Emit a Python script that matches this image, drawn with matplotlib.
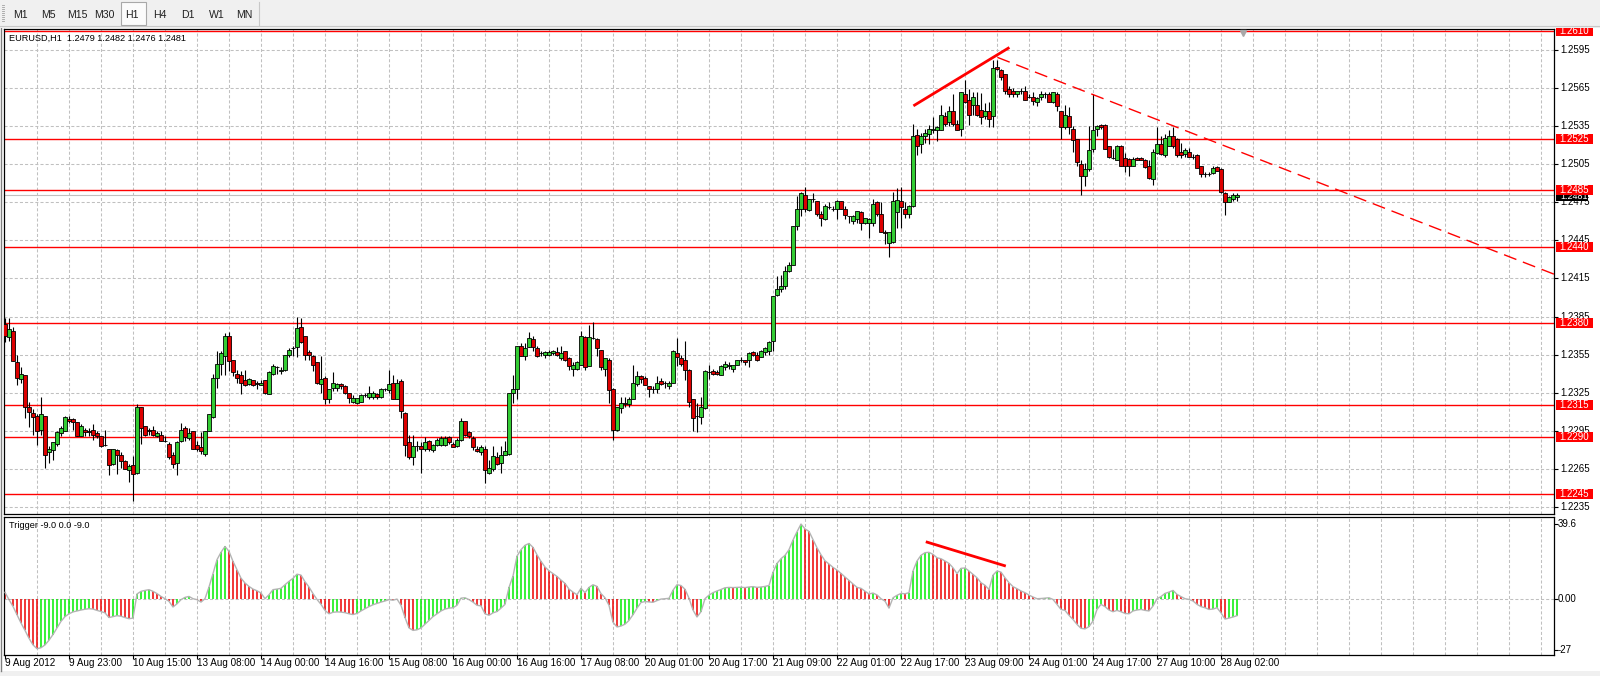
import matplotlib
matplotlib.use("Agg")
import matplotlib.pyplot as plt
from matplotlib.patches import Rectangle
from matplotlib.lines import Line2D
from matplotlib.transforms import blended_transform_factory
import numpy as np

plt.rcParams['font.family'] = ['Liberation Sans', 'DejaVu Sans']
plt.rcParams['lines.scale_dashes'] = False

# ------------------------------------------------------------------ data
symbol_title = "EURUSD,H1  1.2479 1.2482 1.2476 1.2481"
indicator_title = "Trigger -9.0 0.0 -9.0"
timeframes = ["M1", "M5", "M15", "M30", "H1", "H4", "D1", "W1", "MN"]
active_tf = "H1"

opens = [
    1.2379, 1.2369, 1.2374, 1.2349, 1.2336, 1.2339, 1.2314, 1.2309, 1.2307, 1.2296,
    1.2307, 1.2278, 1.2280, 1.2285, 1.2293, 1.2295, 1.2304, 1.2304, 1.2302, 1.2291,
    1.2296, 1.2295, 1.2296, 1.2293, 1.2291, 1.2284, 1.2281, 1.2269, 1.2280, 1.2276,
    1.2271, 1.2264, 1.2268, 1.2262, 1.2314, 1.2299, 1.2296, 1.2296, 1.2291, 1.2292,
    1.2287, 1.2285, 1.2276, 1.2270, 1.2287, 1.2297, 1.2289, 1.2295, 1.2284, 1.2282,
    1.2277, 1.2295, 1.2306, 1.2337, 1.2348, 1.2354, 1.2370, 1.2351, 1.2340, 1.2339,
    1.2335, 1.2332, 1.2335, 1.2333, 1.2331, 1.2335, 1.2324, 1.2340, 1.2345, 1.2342,
    1.2343, 1.2355, 1.2360, 1.2361, 1.2377, 1.2370, 1.2357, 1.2354, 1.2349, 1.2332,
    1.2337, 1.2320, 1.2329, 1.2329, 1.2332, 1.2330, 1.2325, 1.2318, 1.2317, 1.2318,
    1.2323, 1.2322, 1.2322, 1.2324, 1.2322, 1.2328, 1.2327, 1.2333, 1.2320, 1.2334,
    1.2309, 1.2286, 1.2274, 1.2283, 1.2283, 1.2281, 1.2287, 1.2280, 1.2284, 1.2284,
    1.2284, 1.2290, 1.2285, 1.2283, 1.2288, 1.2303, 1.2294, 1.2289, 1.2281, 1.2278,
    1.2281, 1.2262, 1.2265, 1.2274, 1.2270, 1.2276, 1.2277, 1.2325, 1.2328, 1.2362,
    1.2354, 1.2361, 1.2367, 1.2360, 1.2356, 1.2355, 1.2355, 1.2356, 1.2357, 1.2352,
    1.2358, 1.2352, 1.2344, 1.2344, 1.2347, 1.2369, 1.2346, 1.2368, 1.2367, 1.2359,
    1.2344, 1.2351, 1.2328, 1.2296, 1.2313, 1.2317, 1.2316, 1.2320, 1.2332, 1.2338,
    1.2337, 1.2330, 1.2328, 1.2328, 1.2334, 1.2333, 1.2330, 1.2333, 1.2356, 1.2352,
    1.2351, 1.2343, 1.2320, 1.2307, 1.2306, 1.2313, 1.2341, 1.2342, 1.2341, 1.2339,
    1.2345, 1.2346, 1.2344, 1.2347, 1.2351, 1.2351, 1.2351, 1.2357, 1.2355, 1.2353,
    1.2357, 1.2358, 1.2366, 1.2402, 1.2407, 1.2409, 1.2421, 1.2426, 1.2456, 1.2470,
    1.2481, 1.2469, 1.2478, 1.2476, 1.2466, 1.2462, 1.2471, 1.2470, 1.2470, 1.2476,
    1.2470, 1.2464, 1.2460, 1.2462, 1.2467, 1.2459, 1.2459, 1.2459, 1.2475, 1.2466,
    1.2452, 1.2443, 1.2444, 1.2467, 1.2476, 1.2470, 1.2466, 1.2472, 1.2528, 1.2521,
    1.2527, 1.2529, 1.2532, 1.2532, 1.2532, 1.2543, 1.2538, 1.2547, 1.2537, 1.2533,
    1.2560, 1.2556, 1.2552, 1.2552, 1.2548, 1.2543, 1.2547, 1.2543, 1.2582, 1.2579,
    1.2576, 1.2564, 1.2563, 1.2560, 1.2563, 1.2563, 1.2558, 1.2558, 1.2554, 1.2558,
    1.2560, 1.2560, 1.2554, 1.2560, 1.2547, 1.2534, 1.2543, 1.2533, 1.2525, 1.2505,
    1.2496, 1.2501, 1.2517, 1.2533, 1.2536, 1.2536, 1.2519, 1.2510, 1.2508, 1.2519,
    1.2510, 1.2509, 1.2504, 1.2510, 1.2510, 1.2508, 1.2504, 1.2493, 1.2514, 1.2521,
    1.2512, 1.2519, 1.2527, 1.2525, 1.2515, 1.2513, 1.2515, 1.2511, 1.2512, 1.2504,
    1.2497, 1.2497, 1.2498, 1.2503, 1.2501, 1.2482, 1.2475, 1.2478, 1.2479,
]

highs = [
    1.2384, 1.2384, 1.2377, 1.2355, 1.2345, 1.2339, 1.2318, 1.2312, 1.2308, 1.2322,
    1.2307, 1.2283, 1.2286, 1.2295, 1.2299, 1.2307, 1.2307, 1.2305, 1.2302, 1.2300,
    1.2297, 1.2297, 1.2300, 1.2295, 1.2291, 1.2296, 1.2281, 1.2281, 1.2281, 1.2278,
    1.2272, 1.2269, 1.2275, 1.2316, 1.2314, 1.2299, 1.2297, 1.2299, 1.2295, 1.2295,
    1.2291, 1.2286, 1.2278, 1.2287, 1.2301, 1.2299, 1.2297, 1.2295, 1.2287, 1.2294,
    1.2295, 1.2308, 1.2340, 1.2358, 1.2358, 1.2372, 1.2373, 1.2351, 1.2343, 1.2342,
    1.2343, 1.2337, 1.2335, 1.2334, 1.2335, 1.2335, 1.2342, 1.2348, 1.2346, 1.2345,
    1.2355, 1.2360, 1.2362, 1.2385, 1.2384, 1.2370, 1.2359, 1.2355, 1.2349, 1.2354,
    1.2338, 1.2328, 1.2341, 1.2333, 1.2333, 1.2331, 1.2325, 1.2323, 1.2321, 1.2324,
    1.2325, 1.2330, 1.2326, 1.2325, 1.2329, 1.2329, 1.2343, 1.2339, 1.2336, 1.2336,
    1.2310, 1.2292, 1.2292, 1.2287, 1.2286, 1.2290, 1.2288, 1.2285, 1.2289, 1.2291,
    1.2291, 1.2291, 1.2286, 1.2289, 1.2305, 1.2303, 1.2295, 1.2291, 1.2283, 1.2284,
    1.2283, 1.2272, 1.2283, 1.2278, 1.2283, 1.2287, 1.2325, 1.2339, 1.2362, 1.2364,
    1.2364, 1.2373, 1.2370, 1.2362, 1.2358, 1.2358, 1.2359, 1.2359, 1.2361, 1.2362,
    1.2358, 1.2353, 1.2349, 1.2350, 1.2374, 1.2370, 1.2378, 1.2381, 1.2368, 1.2359,
    1.2352, 1.2352, 1.2329, 1.2314, 1.2322, 1.2322, 1.2322, 1.2347, 1.2342, 1.2339,
    1.2338, 1.2330, 1.2330, 1.2338, 1.2337, 1.2334, 1.2334, 1.2359, 1.2368, 1.2355,
    1.2366, 1.2344, 1.2320, 1.2317, 1.2322, 1.2343, 1.2347, 1.2344, 1.2343, 1.2347,
    1.2350, 1.2349, 1.2347, 1.2351, 1.2353, 1.2351, 1.2357, 1.2358, 1.2357, 1.2359,
    1.2361, 1.2366, 1.2401, 1.2417, 1.2418, 1.2425, 1.2428, 1.2456, 1.2480, 1.2483,
    1.2487, 1.2478, 1.2482, 1.2476, 1.2468, 1.2474, 1.2475, 1.2472, 1.2477, 1.2476,
    1.2472, 1.2464, 1.2465, 1.2468, 1.2468, 1.2463, 1.2463, 1.2478, 1.2476, 1.2475,
    1.2453, 1.2452, 1.2483, 1.2486, 1.2487, 1.2475, 1.2473, 1.2537, 1.2533, 1.2530,
    1.2533, 1.2536, 1.2542, 1.2535, 1.2552, 1.2546, 1.2551, 1.2560, 1.2540, 1.2562,
    1.2571, 1.2564, 1.2562, 1.2562, 1.2561, 1.2553, 1.2554, 1.2587, 1.2587, 1.2580,
    1.2576, 1.2567, 1.2565, 1.2563, 1.2565, 1.2567, 1.2560, 1.2562, 1.2558, 1.2563,
    1.2562, 1.2562, 1.2562, 1.2562, 1.2547, 1.2552, 1.2550, 1.2535, 1.2525, 1.2508,
    1.2506, 1.2535, 1.2560, 1.2536, 1.2537, 1.2537, 1.2519, 1.2517, 1.2520, 1.2520,
    1.2514, 1.2510, 1.2511, 1.2511, 1.2511, 1.2509, 1.2508, 1.2517, 1.2534, 1.2527,
    1.2529, 1.2532, 1.2534, 1.2526, 1.2522, 1.2518, 1.2518, 1.2513, 1.2513, 1.2504,
    1.2499, 1.2499, 1.2504, 1.2504, 1.2502, 1.2483, 1.2480, 1.2482, 1.2482,
]

lows = [
    1.2365, 1.2366, 1.2350, 1.2331, 1.2333, 1.2305, 1.2298, 1.2292, 1.2284, 1.2292,
    1.2266, 1.2270, 1.2272, 1.2283, 1.2291, 1.2295, 1.2301, 1.2296, 1.2291, 1.2291,
    1.2291, 1.2291, 1.2288, 1.2289, 1.2282, 1.2283, 1.2260, 1.2268, 1.2261, 1.2266,
    1.2265, 1.2255, 1.2240, 1.2261, 1.2285, 1.2291, 1.2292, 1.2291, 1.2290, 1.2287,
    1.2286, 1.2273, 1.2266, 1.2260, 1.2286, 1.2287, 1.2288, 1.2281, 1.2279, 1.2277,
    1.2275, 1.2295, 1.2305, 1.2329, 1.2339, 1.2339, 1.2342, 1.2338, 1.2333, 1.2324,
    1.2330, 1.2331, 1.2330, 1.2328, 1.2331, 1.2324, 1.2324, 1.2339, 1.2340, 1.2340,
    1.2342, 1.2353, 1.2354, 1.2353, 1.2364, 1.2351, 1.2351, 1.2342, 1.2332, 1.2325,
    1.2316, 1.2317, 1.2326, 1.2326, 1.2328, 1.2324, 1.2317, 1.2317, 1.2316, 1.2318,
    1.2322, 1.2320, 1.2320, 1.2320, 1.2321, 1.2326, 1.2325, 1.2320, 1.2320, 1.2305,
    1.2275, 1.2273, 1.2268, 1.2279, 1.2262, 1.2279, 1.2279, 1.2278, 1.2283, 1.2283,
    1.2283, 1.2285, 1.2282, 1.2282, 1.2287, 1.2291, 1.2289, 1.2280, 1.2278, 1.2276,
    1.2254, 1.2261, 1.2263, 1.2268, 1.2262, 1.2276, 1.2276, 1.2317, 1.2320, 1.2354,
    1.2351, 1.2361, 1.2358, 1.2353, 1.2354, 1.2352, 1.2354, 1.2355, 1.2354, 1.2351,
    1.2350, 1.2343, 1.2338, 1.2343, 1.2347, 1.2343, 1.2346, 1.2367, 1.2354, 1.2343,
    1.2338, 1.2317, 1.2288, 1.2295, 1.2309, 1.2314, 1.2314, 1.2320, 1.2330, 1.2333,
    1.2331, 1.2322, 1.2325, 1.2325, 1.2331, 1.2329, 1.2328, 1.2333, 1.2346, 1.2346,
    1.2335, 1.2314, 1.2295, 1.2294, 1.2300, 1.2312, 1.2336, 1.2339, 1.2339, 1.2339,
    1.2343, 1.2344, 1.2341, 1.2347, 1.2349, 1.2347, 1.2345, 1.2354, 1.2350, 1.2353,
    1.2355, 1.2355, 1.2358, 1.2401, 1.2404, 1.2407, 1.2420, 1.2426, 1.2453, 1.2464,
    1.2467, 1.2468, 1.2475, 1.2464, 1.2456, 1.2461, 1.2470, 1.2468, 1.2462, 1.2470,
    1.2462, 1.2459, 1.2458, 1.2459, 1.2453, 1.2458, 1.2447, 1.2456, 1.2464, 1.2452,
    1.2442, 1.2432, 1.2443, 1.2455, 1.2455, 1.2463, 1.2463, 1.2471, 1.2512, 1.2514,
    1.2522, 1.2521, 1.2530, 1.2523, 1.2532, 1.2535, 1.2535, 1.2535, 1.2532, 1.2527,
    1.2553, 1.2536, 1.2544, 1.2543, 1.2537, 1.2541, 1.2534, 1.2534, 1.2579, 1.2571,
    1.2560, 1.2558, 1.2558, 1.2558, 1.2560, 1.2556, 1.2557, 1.2552, 1.2551, 1.2556,
    1.2557, 1.2554, 1.2553, 1.2547, 1.2525, 1.2533, 1.2529, 1.2515, 1.2504, 1.2481,
    1.2488, 1.2500, 1.2515, 1.2527, 1.2533, 1.2517, 1.2510, 1.2509, 1.2508, 1.2504,
    1.2499, 1.2496, 1.2504, 1.2508, 1.2508, 1.2502, 1.2493, 1.2489, 1.2513, 1.2512,
    1.2511, 1.2519, 1.2518, 1.2511, 1.2510, 1.2511, 1.2511, 1.2509, 1.2502, 1.2495,
    1.2495, 1.2496, 1.2497, 1.2500, 1.2482, 1.2465, 1.2475, 1.2476, 1.2476,
]

closes = [
    1.2370, 1.2375, 1.2350, 1.2337, 1.2340, 1.2314, 1.2310, 1.2306, 1.2295, 1.2308,
    1.2276, 1.2281, 1.2286, 1.2294, 1.2297, 1.2306, 1.2303, 1.2302, 1.2291, 1.2299,
    1.2294, 1.2294, 1.2292, 1.2291, 1.2283, 1.2284, 1.2268, 1.2281, 1.2276, 1.2271,
    1.2265, 1.2267, 1.2261, 1.2314, 1.2297, 1.2292, 1.2295, 1.2292, 1.2293, 1.2287,
    1.2287, 1.2274, 1.2269, 1.2286, 1.2296, 1.2290, 1.2293, 1.2281, 1.2281, 1.2279,
    1.2295, 1.2308, 1.2337, 1.2348, 1.2356, 1.2370, 1.2350, 1.2341, 1.2337, 1.2333,
    1.2331, 1.2336, 1.2331, 1.2332, 1.2333, 1.2325, 1.2341, 1.2346, 1.2345, 1.2343,
    1.2355, 1.2359, 1.2360, 1.2376, 1.2365, 1.2355, 1.2355, 1.2347, 1.2333, 1.2336,
    1.2320, 1.2328, 1.2333, 1.2332, 1.2330, 1.2325, 1.2321, 1.2321, 1.2321, 1.2323,
    1.2323, 1.2325, 1.2325, 1.2322, 1.2328, 1.2328, 1.2332, 1.2320, 1.2333, 1.2311,
    1.2284, 1.2274, 1.2283, 1.2283, 1.2281, 1.2286, 1.2281, 1.2284, 1.2288, 1.2289,
    1.2289, 1.2286, 1.2282, 1.2288, 1.2303, 1.2292, 1.2291, 1.2282, 1.2279, 1.2282,
    1.2264, 1.2266, 1.2275, 1.2269, 1.2276, 1.2279, 1.2325, 1.2328, 1.2362, 1.2354,
    1.2360, 1.2368, 1.2361, 1.2354, 1.2356, 1.2357, 1.2357, 1.2358, 1.2355, 1.2356,
    1.2351, 1.2346, 1.2347, 1.2349, 1.2370, 1.2345, 1.2369, 1.2368, 1.2360, 1.2345,
    1.2352, 1.2327, 1.2296, 1.2314, 1.2317, 1.2316, 1.2320, 1.2333, 1.2338, 1.2336,
    1.2331, 1.2328, 1.2328, 1.2333, 1.2332, 1.2333, 1.2333, 1.2358, 1.2353, 1.2348,
    1.2343, 1.2318, 1.2305, 1.2307, 1.2314, 1.2342, 1.2341, 1.2340, 1.2340, 1.2346,
    1.2348, 1.2347, 1.2347, 1.2351, 1.2351, 1.2349, 1.2356, 1.2355, 1.2351, 1.2358,
    1.2360, 1.2365, 1.2401, 1.2407, 1.2409, 1.2421, 1.2426, 1.2456, 1.2470, 1.2482,
    1.2470, 1.2478, 1.2478, 1.2466, 1.2463, 1.2472, 1.2471, 1.2470, 1.2476, 1.2470,
    1.2465, 1.2464, 1.2464, 1.2468, 1.2459, 1.2463, 1.2462, 1.2474, 1.2466, 1.2452,
    1.2451, 1.2452, 1.2476, 1.2477, 1.2471, 1.2466, 1.2472, 1.2527, 1.2519, 1.2527,
    1.2530, 1.2533, 1.2533, 1.2534, 1.2544, 1.2537, 1.2547, 1.2537, 1.2532, 1.2562,
    1.2554, 1.2544, 1.2558, 1.2544, 1.2542, 1.2547, 1.2541, 1.2581, 1.2580, 1.2574,
    1.2563, 1.2560, 1.2560, 1.2563, 1.2563, 1.2556, 1.2558, 1.2555, 1.2557, 1.2560,
    1.2560, 1.2554, 1.2562, 1.2551, 1.2534, 1.2544, 1.2534, 1.2524, 1.2507, 1.2496,
    1.2501, 1.2516, 1.2532, 1.2535, 1.2534, 1.2517, 1.2511, 1.2510, 1.2519, 1.2504,
    1.2504, 1.2504, 1.2509, 1.2508, 1.2508, 1.2503, 1.2494, 1.2515, 1.2521, 1.2513,
    1.2526, 1.2527, 1.2519, 1.2512, 1.2512, 1.2516, 1.2511, 1.2511, 1.2502, 1.2497,
    1.2497, 1.2497, 1.2502, 1.2500, 1.2483, 1.2475, 1.2479, 1.2481, 1.2481,
]

trigger = [
    3.4, -0.5, -4.1, -8.5, -12.9, -16.8, -21.0, -24.5, -26.5, -26.0,
    -24.5, -22.0, -19.0, -15.5, -12.0, -9.5, -8.0, -7.0, -6.5, -6.0,
    -5.6, -5.3, -5.5, -6.2, -6.8, -7.5, -10.0, -9.5, -9.0, -9.3,
    -10.0, -10.6, -10.3, 2.5, 3.9, 4.4, 4.8, 3.9, 2.7, 1.2,
    0.0, -1.4, -4.4, -2.7, -0.5, 0.7, 1.2, 0.0, -0.5, -1.8,
    0.0, 6.2, 13.3, 20.7, 24.6, 27.7, 25.1, 19.8, 15.4, 10.9,
    8.3, 6.5, 5.1, 4.2, 3.0, 0.0, 2.1, 4.8, 5.1, 5.5,
    7.4, 9.2, 10.8, 13.0, 12.5, 9.0, 6.2, 2.7, -0.4, -3.0,
    -6.2, -8.0, -7.2, -7.0, -7.1, -7.4, -8.0, -8.4, -7.8, -6.5,
    -5.3, -4.2, -3.2, -2.5, -1.8, -1.2, -0.5, -0.8, -0.2, -3.5,
    -10.0, -15.5, -16.8, -16.5, -15.5, -13.5, -11.5, -9.5, -8.0, -6.5,
    -5.5, -5.0, -4.8, -3.5, 0.3, 0.5, -0.5, -1.8, -3.5, -3.8,
    -8.0, -8.8, -7.5, -6.8, -5.0, -3.0, 6.0, 12.0, 22.6, 26.0,
    28.3, 29.3, 27.2, 23.3, 19.8, 16.8, 14.8, 13.3, 11.8, 9.9,
    8.1, 5.1, 3.5, 2.1, 5.5, 3.2, 6.0, 7.4, 6.5, 2.7,
    0.5, -3.5, -12.5, -15.0, -14.5, -13.5, -11.5, -8.5, -5.0, -2.0,
    -1.5, -1.7, -1.9, -1.0, -0.2, 0.0, 0.2, 4.5, 7.4, 7.0,
    5.0, 0.3, -6.0, -9.7, -6.9, 0.0, 1.9, 3.2, 4.1, 4.9,
    5.8, 6.0, 5.9, 6.0, 6.1, 5.9, 6.2, 6.4, 6.0, 6.2,
    6.5, 7.0, 14.0, 18.7, 21.2, 23.0, 26.0, 31.1, 35.5, 39.6,
    37.0, 35.7, 31.3, 27.0, 23.3, 20.1, 18.4, 16.6, 15.2, 13.4,
    11.5, 9.7, 7.8, 6.0, 5.5, 4.0, 2.5, 3.0, 2.0, 0.0,
    -1.3, -5.0, 0.5, 1.8, 2.8, 2.6, 3.2, 14.7, 20.0, 23.0,
    24.4, 24.6, 23.5, 21.7, 21.2, 20.0, 18.7, 16.4, 13.3, 16.1,
    16.3, 14.7, 12.9, 11.1, 8.5, 7.1, 4.9, 12.5, 14.7, 14.1,
    11.1, 8.5, 6.4, 5.3, 4.1, 3.2, 1.9, 0.9, 0.0, 0.1,
    0.3, 0.5, -0.4, -3.0, -5.7, -6.2, -8.8, -11.0, -13.6, -15.7,
    -16.0, -14.8, -11.8, -5.7, -3.0, -4.2, -6.0, -6.9, -6.2, -6.9,
    -7.8, -8.0, -6.5, -6.0, -5.7, -6.2, -6.5, -3.9, 0.0, 1.1,
    2.8, 3.5, 4.4, 2.3, 1.1, 0.0, -0.4, -1.2, -3.0, -4.2,
    -4.8, -5.7, -5.5, -4.8, -7.5, -10.8, -10.3, -9.7, -9.0,
]

level_prices = [1.2610, 1.2525, 1.2485, 1.2440, 1.2380, 1.2315, 1.2290, 1.2245]
price_ticks = [1.2595, 1.2565, 1.2535, 1.2505, 1.2475, 1.2445, 1.2415,
               1.2385, 1.2355, 1.2325, 1.2295, 1.2265, 1.2235]
indicator_ticks = [39.6, 0.0, -27.0]
indicator_tick_labels = ["39.6", "0.00", "-27"]
time_labels = ["9 Aug 2012", "9 Aug 23:00", "10 Aug 15:00", "13 Aug 08:00",
               "14 Aug 00:00", "14 Aug 16:00", "15 Aug 08:00", "16 Aug 00:00",
               "16 Aug 16:00", "17 Aug 08:00", "20 Aug 01:00", "20 Aug 17:00",
               "21 Aug 09:00", "22 Aug 01:00", "22 Aug 17:00", "23 Aug 09:00",
               "24 Aug 01:00", "24 Aug 17:00", "27 Aug 10:00", "28 Aug 02:00"]
time_label_bars = [16 * k for k in range(len(time_labels))]

# drawn analysis objects (bar index, price / indicator value)
rise_line_bars = [227.1, 251.1]
rise_line_prices = [1.2551, 1.2597]
fall_ray_bars = [248.1, 300.0]
fall_ray_prices = [1.25892, 1.25255]
ind_line_bars = [230.2, 250.2]
ind_line_values = [30.2, 17.3]

# ------------------------------------------------------------------ layout
W, H, DPI = 1600, 676, 100
GREEN_BODY = '#33cc33'
RED_BODY = '#dd0000'
HIST_GREEN = '#00ee00'
HIST_RED = '#ee0000'
GRID = '#c0c0c0'
FS_PRICE = 7.0
FS_TIME = 7.1
FS_TITLE = 6.6
FS_TOOL = 7.6

fig = plt.figure(figsize=(W / DPI, H / DPI), dpi=DPI)
fig.patch.set_facecolor('#f0f0f0')


def fbox(x0, y0, x1, y1):
    return [x0 / W, 1 - y1 / H, (x1 - x0) / W, (y1 - y0) / H]


fig.add_artist(Rectangle((0, 1 - 671 / H), 1, (671 - 27) / H, transform=fig.transFigure,
                         facecolor='white', edgecolor='none', zorder=-10))
fig.add_artist(Line2D([1 / W] * 2, [1 - 27 / H, 1 - 671 / H], transform=fig.transFigure,
                      color='#808080', lw=1.0, zorder=-9))

ax = fig.add_axes(fbox(4, 28.5, 1554, 514))
ax2 = fig.add_axes(fbox(4, 517, 1554, 655))
XMIN, XMAX = -0.25, 387.25
for a in (ax, ax2):
    a.set_facecolor('white')
    a.set_xlim(XMIN, XMAX)
    for s in a.spines.values():
        s.set_color('black')
        s.set_linewidth(0.9)
ax.set_ylim(1.222947, 1.261194)
ax2.set_ylim(-29.85, 43.32)


def axx(px):
    return (px - 4) / 1550.0


# grid
gkw = dict(color=GRID, lw=0.75, dashes=(2.2, 1.5), zorder=0.5)
for b in range(8, int(XMAX) + 1, 8):
    ax.axvline(b, **gkw)
    ax2.axvline(b, **gkw)
for p in price_ticks:
    ax.axhline(p, **gkw)
ax2.axhline(0, **gkw)

# levels and current price line
last_close = closes[-1]
ax.axhline(last_close, color='#c0c0c0', lw=0.8, zorder=1)
for p in level_prices:
    ax.axhline(p, color='#ff0000', lw=1.0, zorder=2)

# candles
n = len(closes)
x = np.arange(n)
o = np.array(opens)
hgh = np.array(highs)
low = np.array(lows)
c = np.array(closes)
ax.vlines(x, low, hgh, color='black', lw=0.8, zorder=3)
body_colors = np.where(c > o, GREEN_BODY, RED_BODY)
ax.bar(x, np.abs(c - o), bottom=np.minimum(o, c), width=0.8, color=body_colors,
       edgecolor='black', linewidth=0.6, zorder=4)

# trend lines
ax.plot(rise_line_bars, rise_line_prices, color='#ff0000', lw=2.0,
        solid_capstyle='butt', zorder=5)
slope = (fall_ray_prices[1] - fall_ray_prices[0]) / (fall_ray_bars[1] - fall_ray_bars[0])
ax.plot([fall_ray_bars[0], XMAX],
        [fall_ray_prices[0], fall_ray_prices[0] + slope * (XMAX - fall_ray_bars[0])],
        color='#ff0000', lw=1.0, dashes=(9.5, 5.0), zorder=5)

# chart-shift marker
ax.plot([n + 0.5], [0.9907], marker='v', ms=4, color='#a8a8a8',
        transform=blended_transform_factory(ax.transData, ax.transAxes),
        clip_on=False, zorder=6)

# indicator
v = np.array(trigger)
rising = np.r_[False, v[1:] > v[:-1]]
hist_cols = np.where(rising, HIST_GREEN, HIST_RED)
ax2.vlines(x, 0, v, colors=hist_cols, lw=1.1, zorder=2)
ax2.plot(x, v, color='#b4b4b4', lw=1.0, zorder=3)
ax2.plot(ind_line_bars, ind_line_values, color='#ff0000', lw=2.0,
         solid_capstyle='butt', zorder=5)

# ---- price axis (right)
ax.tick_params(axis='x', bottom=False, labelbottom=False)
ax.yaxis.tick_right()
ax.set_yticks(price_ticks)
ax.tick_params(axis='y', length=3, width=0.8, color='black', labelright=False)
trY = blended_transform_factory(ax.transAxes, ax.transData)
for p in price_ticks:
    ax.text(axx(1560), p, f"{p:.4f}", transform=trY, ha='left', va='center',
            fontsize=FS_PRICE, color='black', clip_on=False, zorder=6)
ppx = (ax.get_ylim()[1] - ax.get_ylim()[0]) / 485.5
half = 5 * ppx
# current bid label sits just under the 1.2485 level label, as in the terminal
bid_y = last_close - 1.5 * ppx
ax.add_patch(Rectangle((axx(1556), bid_y - half), axx(1588) - axx(1556), 2 * half,
                       transform=trY, facecolor='black', edgecolor='none',
                       clip_on=False, zorder=7))
ax.text(axx(1560), bid_y, f"{last_close:.4f}", transform=trY, ha='left',
        va='center', fontsize=FS_PRICE - 0.6, color='white', clip_on=False, zorder=7.5)
for p in level_prices:
    ax.add_patch(Rectangle((axx(1556), p - half), axx(1593) - axx(1556), 2 * half,
                           transform=trY, facecolor='#ff0000', edgecolor='none',
                           clip_on=False, zorder=8))
    ax.text(axx(1559.5), p, f"{p:.4f}", transform=trY, ha='left', va='center',
            fontsize=FS_PRICE, color='white', clip_on=False, zorder=9)

# ---- indicator axis
ax2.yaxis.tick_right()
ax2.set_yticks(indicator_ticks)
ax2.tick_params(axis='y', length=3, width=0.8, labelright=False)
trY2 = blended_transform_factory(ax2.transAxes, ax2.transData)
for val, lab in zip(indicator_ticks, indicator_tick_labels):
    ax2.text(axx(1558), val, lab, transform=trY2, ha='left', va='center',
             fontsize=FS_PRICE, color='black', clip_on=False)

# ---- time axis
ax2.set_xticks(time_label_bars)
ax2.tick_params(axis='x', length=3, width=0.8, direction='out', labelbottom=False)
trX = blended_transform_factory(ax2.transData, ax2.transAxes)
for b, lab in zip(time_label_bars, time_labels):
    ax2.text(b + 0.1, -0.058, lab, transform=trX, ha='left', va='center',
             fontsize=FS_TIME, color='black', clip_on=False)

# ---- titles
fig.text(9 / W, 1 - 38 / H, symbol_title, fontsize=FS_TITLE, ha='left', va='center', zorder=30)
fig.text(9 / W, 1 - 526 / H, indicator_title, fontsize=FS_TITLE, ha='left', va='center', zorder=30)

# ---- toolbar (also hides the part of the top level label above the window)
fig.add_artist(Rectangle((0, 1 - 28 / H), 1, 28 / H, transform=fig.transFigure,
                         facecolor='#f0f0f0', edgecolor='none', zorder=20))
fig.add_artist(Line2D([0, 1], [1 - 25.5 / H] * 2, transform=fig.transFigure,
                      color='#c8c8c8', lw=0.8, zorder=21))
fig.add_artist(Rectangle((120.5 / W, 1 - 25 / H), 25 / W, 23 / H, transform=fig.transFigure,
                         facecolor='#fbfbfb', edgecolor='#a8a8a8', lw=0.8, zorder=21))
fig.add_artist(Line2D([259 / W] * 2, [1 - 2 / H, 1 - 25 / H], transform=fig.transFigure,
                      color='#c8c8c8', lw=0.8, zorder=21))
for yy in range(5, 23, 2):
    fig.add_artist(Line2D([2 / W, 4 / W], [1 - yy / H] * 2, transform=fig.transFigure,
                          color='#a0a0a0', lw=0.6, zorder=21))
tf_centers = [20, 48, 77, 104, 132, 160, 188, 217, 244]
for cx, tf in zip(tf_centers, timeframes):
    fig.text(cx / W, 1 - 15 / H, tf, fontsize=FS_TOOL, ha='center', va='center',
             color='#202020', zorder=22)

fig.savefig('out.png', dpi=DPI, facecolor=fig.get_facecolor())
